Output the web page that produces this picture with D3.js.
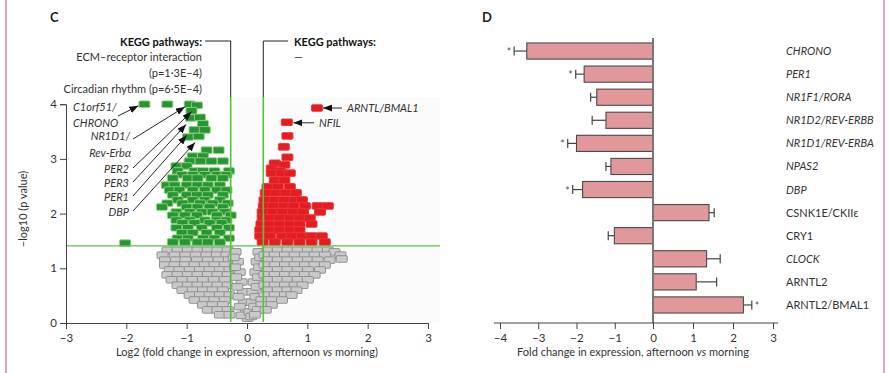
<!DOCTYPE html>
<html>
<head>
<meta charset="utf-8">
<script src="https://cdn.jsdelivr.net/npm/d3@7"></script>
<style>
  body { margin: 0; background: #fff; }
  text { font-family: Lato, "Open Sans", sans-serif; fill: #333; }
</style>
</head>
<body>
<div id="chart"></div>
<script>
// ---- Panel C: volcano plot, [log2 fold change, -log10 p] ----
var downPts = [
  [-1.70,4.00],[-1.32,4.00],[-0.95,4.00],[-0.83,3.98],[-0.92,3.88],[-0.93,3.75],[-0.78,3.76],
  [-0.73,3.64],[-0.87,3.53],[-0.70,3.53],[-0.98,3.40],[-0.80,3.41],[-0.67,3.16],[-0.47,3.16],
  [-0.90,3.05],[-0.73,3.05],[-0.95,2.96],[-0.77,2.96],[-0.59,2.96],[-0.40,2.96],[-1.17,2.87],[-1.00,2.87],
  [-1.15,2.78],[-0.87,2.78],[-0.73,2.78],[-0.54,2.78],[-0.30,2.78],
  [-1.08,2.71],[-0.90,2.71],[-0.70,2.71],[-0.49,2.71],[-0.34,2.71],
  [-1.23,2.65],[-0.98,2.65],[-0.82,2.65],[-0.59,2.65],[-0.40,2.65],
  [-1.33,2.52],[-1.20,2.52],[-1.00,2.52],[-0.82,2.52],[-0.65,2.52],[-0.45,2.52],
  [-1.28,2.43],[-1.12,2.43],[-0.90,2.43],[-0.70,2.43],[-0.50,2.43],[-0.34,2.43],
  [-1.23,2.34],[-1.00,2.34],[-0.83,2.34],[-0.65,2.34],[-0.40,2.34],
  [-1.15,2.25],[-0.90,2.25],[-0.70,2.25],[-0.45,2.25],
  [-1.32,2.19],[-1.07,2.19],[-0.78,2.19],[-0.57,2.19],[-0.32,2.19],
  [-1.41,2.12],[-1.00,2.12],[-0.82,2.12],[-0.62,2.12],[-0.40,2.12],
  [-1.17,2.03],[-0.95,2.03],[-0.75,2.03],[-0.57,2.03],[-0.37,2.03],
  [-1.23,1.97],[-1.03,1.97],[-0.83,1.97],[-0.50,1.97],[-0.27,1.97],
  [-1.17,1.88],[-0.95,1.88],[-0.70,1.88],[-0.50,1.88],[-0.34,1.88],
  [-1.07,1.83],[-0.87,1.83],[-0.62,1.83],[-0.42,1.83],
  [-1.17,1.74],[-0.98,1.74],[-0.75,1.74],[-0.50,1.74],[-0.30,1.74],
  [-1.08,1.65],[-0.90,1.65],[-0.67,1.65],[-0.45,1.65],
  [-1.15,1.55],[-0.98,1.55],[-0.73,1.55],[-0.54,1.55],[-0.30,1.55],
  [-1.23,1.48],[-1.03,1.48],[-0.82,1.48],[-0.65,1.48],[-0.45,1.48],
  [-2.02,1.46]
];
var upPts = [
  [1.16,3.93],[0.66,3.67],[0.67,3.42],[0.61,3.22],[0.67,3.03],[0.46,2.92],[0.62,2.89],[0.41,2.83],[0.54,2.78],
  [0.41,2.74],[0.57,2.74],[0.71,2.74],
  [0.46,2.61],[0.62,2.61],
  [0.34,2.49],[0.51,2.49],[0.71,2.49],
  [0.31,2.38],[0.48,2.38],[0.64,2.38],[0.81,2.38],
  [0.29,2.25],[0.46,2.25],[0.62,2.25],[0.79,2.25],[0.91,2.25],
  [0.28,2.14],[0.44,2.14],[0.61,2.14],[0.77,2.14],[0.96,2.14],[1.17,2.14],[1.34,2.14],
  [0.26,2.03],[0.43,2.03],[0.59,2.03],[0.76,2.03],[0.93,2.03],[1.21,2.03],
  [0.26,1.92],[0.38,1.92],[0.54,1.92],[0.71,1.92],[0.87,1.92],[1.04,1.92],
  [0.24,1.81],[0.38,1.81],[0.54,1.81],[0.71,1.81],[0.87,1.81],[1.07,1.81],
  [0.22,1.70],[0.38,1.70],[0.54,1.70],[0.71,1.70],[0.87,1.70],
  [0.22,1.59],[0.38,1.59],[0.58,1.59],[0.74,1.59],[0.91,1.59],[1.07,1.59],[1.24,1.59],
  [0.26,1.48],[0.46,1.48],[0.67,1.48],[0.87,1.48],[1.07,1.48],[1.29,1.48]
];
var nsPts = [
  [-1.32,1.33],[-1.15,1.33],[-0.98,1.33],[-0.82,1.33],[-0.65,1.33],[-0.49,1.33],[-0.32,1.33],
  [-1.40,1.24],[-1.20,1.24],[-1.02,1.24],[-0.85,1.24],[-0.67,1.24],[-0.50,1.24],[-0.34,1.24],
  [-1.36,1.15],[-1.18,1.15],[-1.02,1.15],[-0.83,1.15],[-0.65,1.15],[-0.47,1.15],[-0.30,1.15],
  [-1.36,1.06],[-1.20,1.06],[-1.03,1.06],[-0.87,1.06],[-0.70,1.06],[-0.54,1.06],[-0.37,1.06],
  [-1.28,0.97],[-1.12,0.97],[-0.95,0.97],[-0.78,0.97],[-0.62,0.97],[-0.45,0.97],[-0.29,0.97],
  [-1.32,0.88],[-1.15,0.88],[-0.98,0.88],[-0.82,0.88],[-0.65,0.88],[-0.49,0.88],[-0.32,0.88],
  [-1.25,0.79],[-1.07,0.79],[-0.90,0.79],[-0.73,0.79],[-0.55,0.79],[-0.37,0.79],
  [-1.15,0.69],[-0.98,0.69],[-0.82,0.69],[-0.65,0.69],[-0.49,0.69],[-0.32,0.69],
  [-1.07,0.60],[-0.90,0.60],[-0.73,0.60],[-0.57,0.60],[-0.40,0.60],
  [-0.95,0.51],[-0.78,0.51],[-0.62,0.51],[-0.45,0.51],[-0.29,0.51],
  [-0.87,0.42],[-0.70,0.42],[-0.54,0.42],[-0.37,0.42],
  [-0.73,0.33],[-0.57,0.33],[-0.40,0.33],
  [-0.65,0.24],[-0.49,0.24],[-0.32,0.24],
  [-0.45,0.15],[-0.29,0.15],
  [-0.19,1.30],[-0.15,1.12],[-0.12,0.93],[-0.09,0.75],[-0.07,0.57],[-0.05,0.38],[-0.02,0.20],[0.01,0.09],
  [-0.22,1.20],[-0.20,1.02],[-0.18,0.84],[-0.16,0.66],[-0.14,0.48],[-0.12,0.30],[-0.09,0.14],
  [0.19,1.30],[0.16,1.12],[0.14,0.93],[0.11,0.75],[0.09,0.57],[0.08,0.38],[0.04,0.20],
  [0.22,1.20],[0.20,1.02],[0.18,0.84],[0.16,0.66],[0.14,0.48],[0.12,0.30],[0.07,0.12],
  [0.34,1.33],[0.51,1.33],[0.67,1.33],[0.84,1.33],[1.01,1.33],[1.17,1.33],[1.34,1.33],[1.45,1.30],
  [0.29,1.24],[0.46,1.24],[0.63,1.24],[0.79,1.24],[0.96,1.24],[1.12,1.24],[1.29,1.24],[1.55,1.24],
  [0.34,1.15],[0.51,1.15],[0.67,1.15],[0.84,1.15],[1.01,1.15],[1.17,1.15],[1.37,1.15],[1.57,1.17],
  [0.29,1.06],[0.46,1.06],[0.63,1.06],[0.79,1.06],[0.96,1.06],[1.12,1.06],[1.29,1.06],
  [0.34,0.97],[0.51,0.97],[0.67,0.97],[0.84,0.97],[1.01,0.97],[1.21,0.97],
  [0.29,0.88],[0.46,0.88],[0.63,0.88],[0.79,0.88],[0.96,0.88],[1.12,0.88],
  [0.34,0.79],[0.51,0.79],[0.67,0.79],[0.84,0.79],[1.01,0.79],
  [0.29,0.69],[0.46,0.69],[0.63,0.69],[0.79,0.69],[0.92,0.69],
  [0.34,0.60],[0.51,0.60],[0.67,0.60],[0.82,0.60],
  [0.29,0.51],[0.46,0.51],[0.63,0.51],[0.74,0.51],
  [0.24,0.42],[0.41,0.42],[0.58,0.42],
  [0.24,0.33],[0.41,0.33],
  [0.18,0.24],[0.31,0.24],
  [0.13,0.15]
];
var fcCut = 0.27;
var pCut = 1.41;
var volcXTicks = [-3,-2,-1,0,1,2,3];
var volcYTicks = [0,1,2,3,4];

// gene labels left of the volcano: [text, x, baseline]
var leftGeneLabels = [
  ['C1orf51/', 73, 111],
  ['CHRONO', 73, 127],
  ['NR1D1/', 130, 140],
  ['Rev-Erb\u03b1', 131, 157],
  ['PER2', 129, 173],
  ['PER3', 129, 187],
  ['PER1', 129, 201],
  ['DBP', 129, 216]
];
// arrows: [start x, start y, target fc, target p]
var leftArrows = [
  [118, 116, -1.80, 3.97],
  [133, 139, -1.03, 3.95],
  [133, 168, -0.92, 3.86],
  [133, 182, -1.01, 3.63],
  [133, 196, -1.00, 3.43],
  [133, 211, -0.86, 3.30]
];
var rightArrows = [
  ['ARNTL/BMAL1', 342, 1.26, 3.93],
  ['NFIL', 314, 0.77, 3.66]
];

// ---- Panel D: bar chart ----
var genes = ['CHRONO','PER1','NR1F1/RORA','NR1D2/REV-ERBB','NR1D1/REV-ERBA','NPAS2','DBP',
             'CSNK1E/CKII\u03b5','CRY1','CLOCK','ARNTL2','ARNTL2/BMAL1'];
var foldChange = [-3.30,-1.80,-1.47,-1.23,-2.00,-1.10,-1.84,1.40,-1.01,1.34,1.08,2.26];
var errSize = [0.33,0.22,0.16,0.36,0.23,0.13,0.26,0.13,0.16,0.34,0.51,0.21];
var signif = [true,true,false,false,true,false,true,false,false,false,false,true];
var italicName = [true,true,true,true,true,true,true,false,false,true,false,false];
var barXTicks = [-4,-3,-2,-1,0,1,2,3];

var W = 889, H = 373;
var svg = d3.select('#chart').append('svg')
    .attr('width', W)
    .attr('height', H);

svg.append('defs').append('marker')
    .attr('id', 'ah')
    .attr('markerUnits', 'userSpaceOnUse')
    .attr('markerWidth', 9).attr('markerHeight', 7)
    .attr('refX', 9).attr('refY', 3.5)
    .attr('orient', 'auto')
    .append('path').attr('d', 'M0,0 L9,3.5 L0,7 Z').attr('fill', '#111');

// pink page rules
svg.append('line').attr('x1', 6).attr('x2', 6).attr('y1', 0).attr('y2', H)
    .attr('stroke', '#e6a4b6').attr('stroke-width', 2);
svg.append('line').attr('x1', 884).attr('x2', 884).attr('y1', 0).attr('y2', H)
    .attr('stroke', '#e6a4b6').attr('stroke-width', 2);

// ================= C =================
var xC = d3.scaleLinear().domain([-3, 3]).range([66, 428]);
var yC = d3.scaleLinear().domain([0, 4]).range([323, 104.2]);

svg.append('text').attr('x', 50).attr('y', 22).text('C')
    .style('font-weight', 'bold').style('font-size', '13px').style('fill', '#222');

svg.append('rect').attr('x', xC(-fcCut)).attr('y', 97)
    .attr('width', 440 - xC(-fcCut)).attr('height', 323 - 97)
    .attr('fill', '#fbfbfb');

var gC = svg.append('g');

function drawPts(pts, fill, stroke) {
  gC.append('g').selectAll('rect')
    .data(pts)
    .join('rect')
    .attr('x', d => xC(d[0]) - 5.5)
    .attr('y', d => yC(d[1]) - 3.3)
    .attr('width', 11)
    .attr('height', 6.6)
    .attr('rx', 1)
    .attr('fill', fill)
    .attr('stroke', stroke)
    .attr('stroke-width', 0.9);
}
drawPts(nsPts, '#c9c9c9', '#8a8a8a');
drawPts(downPts, '#279535', '#8fd47c');
drawPts(upPts, '#e41d22', '#e8383c');

// threshold lines
gC.append('line').attr('x1', 66).attr('x2', 440)
    .attr('y1', yC(pCut)).attr('y2', yC(pCut))
    .attr('stroke', '#5ec24a').attr('stroke-width', 1.2);
[-fcCut, fcCut].forEach(function(v) {
  gC.append('line').attr('x1', xC(v)).attr('x2', xC(v))
      .attr('y1', 97).attr('y2', 322)
      .attr('stroke', '#58c03e').attr('stroke-width', 1.6);
});

// axes
var axCx = gC.append('g').attr('transform', 'translate(0,323)')
    .call(d3.axisBottom(xC).tickValues(volcXTicks).tickSizeOuter(0).tickSize(6).tickFormat(d3.format('d')));
var axCy = gC.append('g').attr('transform', 'translate(66,0)')
    .call(d3.axisLeft(yC).tickValues(volcYTicks).tickSizeOuter(0).tickSize(6).tickFormat(d3.format('d')));
[axCx, axCy].forEach(function(a) {
  a.selectAll('path,line').attr('stroke', '#444');
  a.selectAll('text').style('font-size', '11.5px').style('fill', '#333')
    .style('font-family', 'Lato, sans-serif');
});
axCx.selectAll('text').attr('dy', '0.9em');

svg.append('text').attr('x', xC(0)).attr('y', 356).attr('text-anchor', 'middle')
    .style('font-size', '11px')
    .call(function(t) {
      t.append('tspan').text('Log2 (fold change in expression, afternoon ');
      t.append('tspan').style('font-style', 'italic').text('vs');
      t.append('tspan').text(' morning)');
    });
svg.append('text').attr('transform', 'translate(27,209) rotate(-90)')
    .attr('text-anchor', 'middle').style('font-size', '11px')
    .text('\u2212log10 (p value)');

// KEGG annotations
var keggL = [['KEGG pathways:', true, 46], ['ECM\u2013receptor interaction', false, 61],
             ['(p=1\u00b73E\u20134)', false, 77], ['Circadian rhythm (p=6\u00b75E\u20134)', false, 93]];
keggL.forEach(function(k) {
  svg.append('text').attr('x', 202).attr('y', k[2]).attr('text-anchor', 'end')
      .style('font-size', '11px').style('font-weight', k[1] ? 'bold' : 'normal')
      .style('fill', k[1] ? '#111' : '#333').text(k[0]);
});
svg.append('text').attr('x', 294).attr('y', 46).style('font-size', '11px')
    .style('font-weight', 'bold').style('fill', '#111').text('KEGG pathways:');
svg.append('text').attr('x', 294).attr('y', 61).style('font-size', '11px').text('\u2014');
svg.append('polyline')
    .attr('points', [[205, 41], [xC(-fcCut), 41], [xC(-fcCut), 97]].join(' '))
    .attr('fill', 'none').attr('stroke', '#222').attr('stroke-width', 1);
svg.append('polyline')
    .attr('points', [[288, 41], [xC(fcCut), 41], [xC(fcCut), 97]].join(' '))
    .attr('fill', 'none').attr('stroke', '#222').attr('stroke-width', 1);

// gene labels and arrows
leftGeneLabels.forEach(function(l, i) {
  svg.append('text').attr('x', l[1]).attr('y', l[2])
      .attr('text-anchor', i < 2 ? 'start' : 'end')
      .style('font-size', '11px').style('font-style', 'italic').text(l[0]);
});
leftArrows.forEach(function(a) {
  svg.append('line').attr('x1', a[0]).attr('y1', a[1])
      .attr('x2', xC(a[2])).attr('y2', yC(a[3]))
      .attr('stroke', '#111').attr('stroke-width', 0.9)
      .attr('marker-end', 'url(#ah)');
});
rightArrows.forEach(function(a) {
  svg.append('line').attr('x1', a[1]).attr('y1', yC(a[3]))
      .attr('x2', xC(a[2])).attr('y2', yC(a[3]))
      .attr('stroke', '#111').attr('stroke-width', 0.9)
      .attr('marker-end', 'url(#ah)');
  svg.append('text').attr('x', a[1] + 5).attr('y', yC(a[3]) + 4)
      .style('font-size', '11px').style('font-style', 'italic').text(a[0]);
});

// ================= D =================
svg.append('text').attr('x', 482).attr('y', 22).text('D')
    .style('font-weight', 'bold').style('font-size', '13px').style('fill', '#222');

var xD = d3.scaleLinear().domain([-4, 0, 3]).range([500, 653, 773]);
var yD = d3.scaleBand().domain(genes).range([39.5, 316.5])
    .paddingInner(0.3).paddingOuter(0.15);

var gD = svg.append('g');
var rows = genes.map(function(g, i) {
  return {gene: g, v: foldChange[i], e: errSize[i], s: signif[i], it: italicName[i]};
});

// error bars
rows.forEach(function(r) {
  var cy = yD(r.gene) + yD.bandwidth() / 2;
  var end = r.v < 0 ? r.v - r.e : r.v + r.e;
  gD.append('line').attr('x1', xD(r.v)).attr('x2', xD(end)).attr('y1', cy).attr('y2', cy)
      .attr('stroke', '#444').attr('stroke-width', 1.2);
  gD.append('line').attr('x1', xD(end)).attr('x2', xD(end)).attr('y1', cy - 4.5).attr('y2', cy + 4.5)
      .attr('stroke', '#444').attr('stroke-width', 1.2);
  if (r.s) {
    gD.append('text').attr('x', r.v < 0 ? xD(end) - 3 : xD(end) + 3).attr('y', cy + 5)
        .attr('text-anchor', r.v < 0 ? 'end' : 'start')
        .style('font-size', '10.5px').style('fill', '#555').text('*');
  }
});

gD.append('g').selectAll('rect')
  .data(rows)
  .join('rect')
  .attr('x', d => xD(Math.min(0, d.v)))
  .attr('y', d => yD(d.gene))
  .attr('width', d => Math.abs(xD(d.v) - xD(0)))
  .attr('height', yD.bandwidth())
  .attr('fill', '#e0989b')
  .attr('stroke', '#4a4a4a')
  .attr('stroke-width', 1.1);

gD.append('line').attr('x1', xD(0)).attr('x2', xD(0)).attr('y1', 38).attr('y2', 323)
    .attr('stroke', '#777').attr('stroke-width', 2);

var axD = gD.append('g').attr('transform', 'translate(0,323)')
    .call(d3.axisBottom(xD).tickValues(barXTicks).tickSize(6).tickSizeOuter(0).tickFormat(d3.format('d')));
axD.select('.domain').remove();
axD.append('line').attr('x1', 494).attr('x2', 778).attr('y1', 0).attr('y2', 0)
    .attr('stroke', '#444').attr('stroke-width', 1);
axD.selectAll('line').attr('stroke', '#444');
axD.selectAll('text').style('font-size', '11.5px').style('fill', '#333')
    .style('font-family', 'Lato, sans-serif').attr('dy', '0.9em');

svg.append('text').attr('x', 633).attr('y', 356).attr('text-anchor', 'middle')
    .style('font-size', '11px')
    .call(function(t) {
      t.append('tspan').text('Fold change in expression, afternoon ');
      t.append('tspan').style('font-style', 'italic').text('vs');
      t.append('tspan').text(' morning');
    });

gD.append('g').selectAll('text')
  .data(rows)
  .join('text')
  .attr('x', 786)
  .attr('y', d => yD(d.gene) + yD.bandwidth() / 2 + 4)
  .style('font-size', '11px')
  .style('font-style', d => d.it ? 'italic' : 'normal')
  .text(d => d.gene);
</script>
</body>
</html>
